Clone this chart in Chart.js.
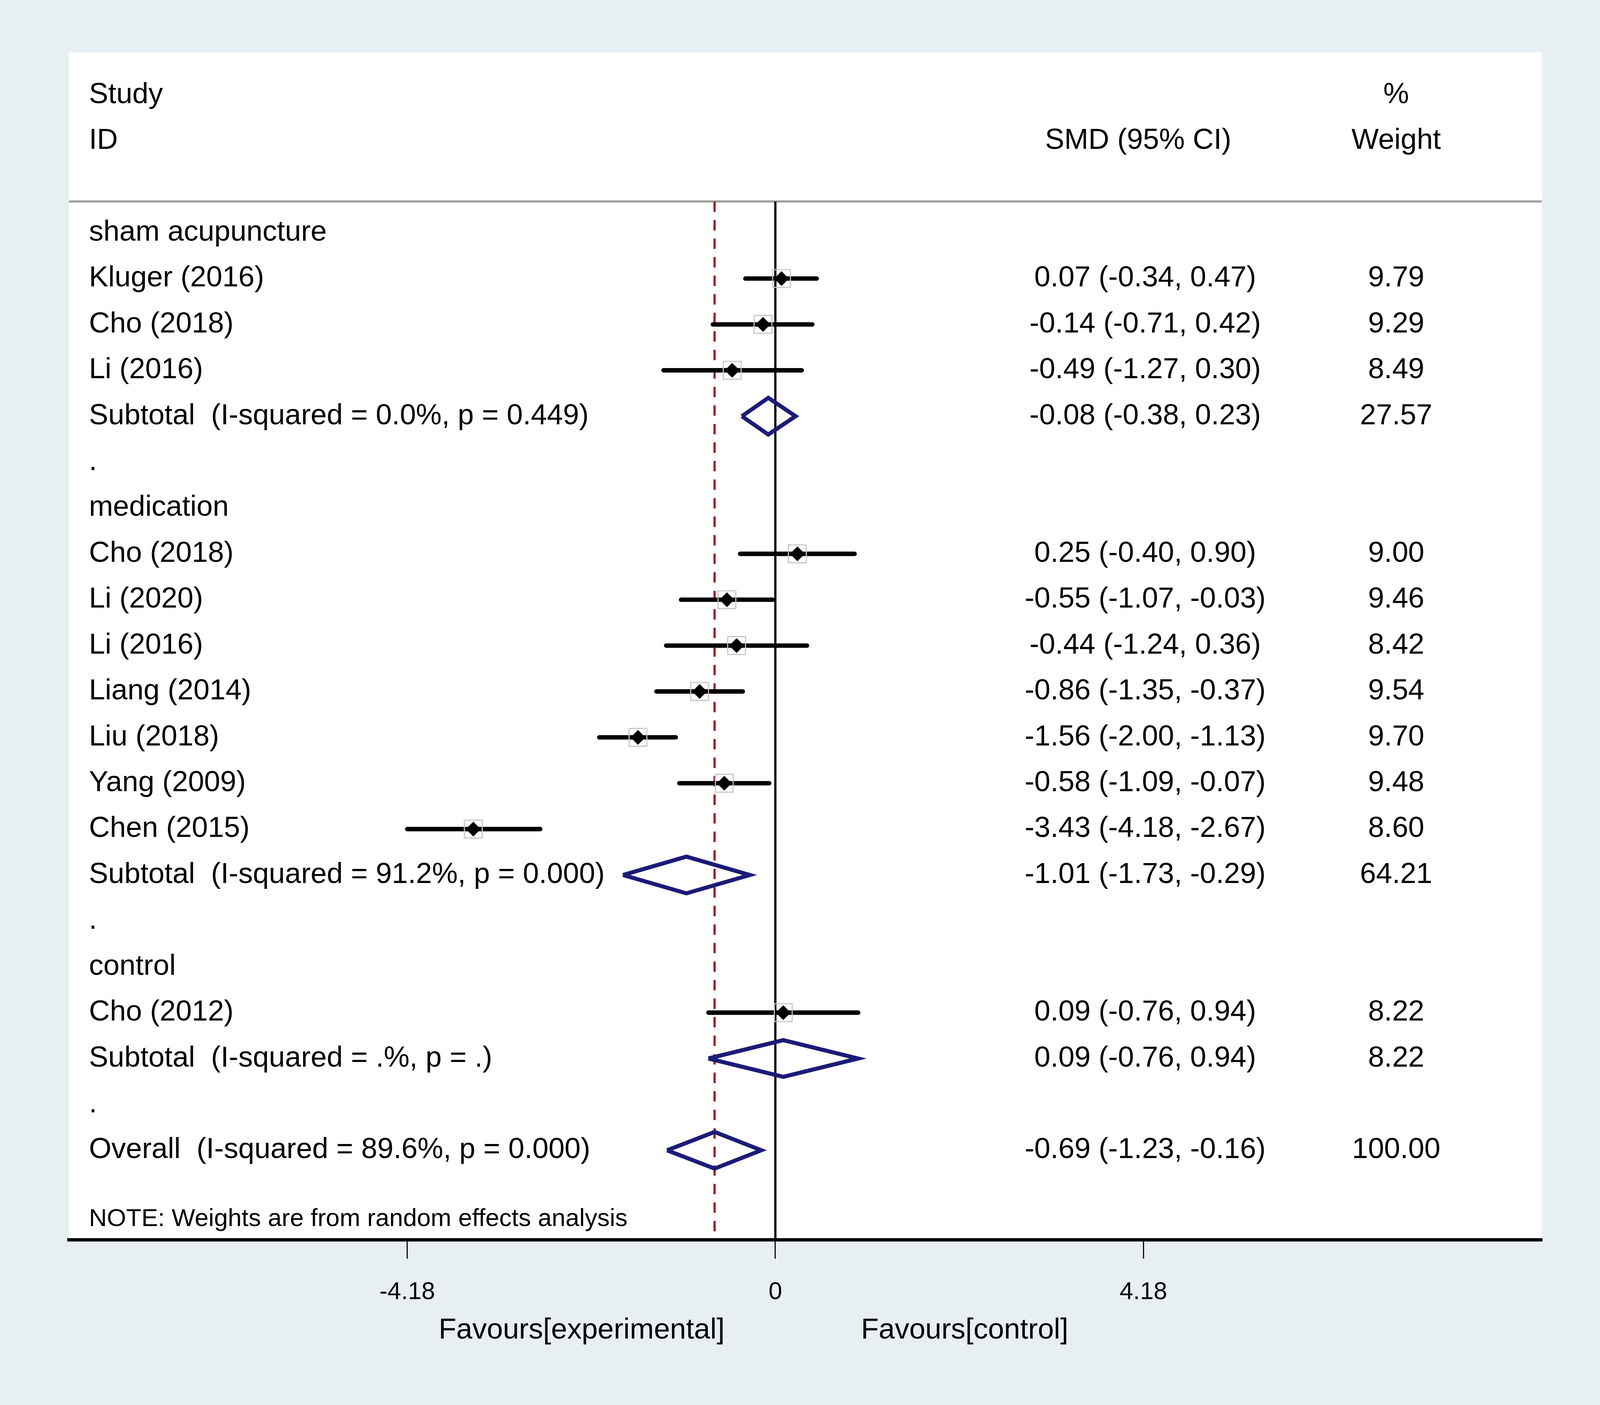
<!DOCTYPE html>
<html>
<head>
<meta charset="utf-8">
<title>Forest plot - SMD</title>
<script src="https://cdn.jsdelivr.net/npm/chart.js@4"></script>
<style>
  html, body { margin: 0; height: 100%; overflow: hidden; background: #e8eff2; }
  #wrap { position: relative; width: 100vw; height: 100vh; }
</style>
</head>
<body>
<div id="wrap"><canvas id="chart"></canvas></div>
<script>
// individual studies, row 0 is the first group heading and rows count downwards
const studyNames = ["Kluger (2016)", "Cho (2018)", "Li (2016)", "Cho (2018)", "Li (2020)", "Li (2016)",
  "Liang (2014)", "Liu (2018)", "Yang (2009)", "Chen (2015)", "Cho (2012)"];
const studyRows = [1, 2, 3, 7, 8, 9, 10, 11, 12, 13, 17];
const studySmd = [0.07, -0.14, -0.49, 0.25, -0.55, -0.44, -0.86, -1.56, -0.58, -3.43, 0.09];
const studyLow = [-0.34, -0.71, -1.27, -0.40, -1.07, -1.24, -1.35, -2.00, -1.09, -4.18, -0.76];
const studyHigh = [0.47, 0.42, 0.30, 0.90, -0.03, 0.36, -0.37, -1.13, -0.07, -2.67, 0.94];
const studyWeight = [9.79, 9.29, 8.49, 9.00, 9.46, 8.42, 9.54, 9.70, 9.48, 8.60, 8.22];

// pooled estimates (subtotals + overall)
const poolNames = ["Subtotal  (I-squared = 0.0%, p = 0.449)", "Subtotal  (I-squared = 91.2%, p = 0.000)",
  "Subtotal  (I-squared = .%, p = .)", "Overall  (I-squared = 89.6%, p = 0.000)"];
const poolRows = [4, 14, 18, 20];
const poolSmd = [-0.08, -1.01, 0.09, -0.69];
const poolLow = [-0.38, -1.73, -0.76, -1.23];
const poolHigh = [0.23, -0.29, 0.94, -0.16];
const poolWeight = [27.57, 64.21, 8.22, 100.00];

const groupNames = ["sham acupuncture", "medication", "control"];
const groupRows = [0, 6, 16];
const blankRows = [5, 15, 19];

const tickValues = [-4.18, 0, 4.18];
const tickLabels = ["-4.18", "0", "4.18"];
const favourValues = [-2.2, 2.15];
const favourLabels = ["Favours[experimental]", "Favours[control]"];
const noteText = "NOTE: Weights are from random effects analysis";

// layout (sizes are given for a 4317 x 3596 page and scaled to the real window)
const X_MIN = -8.022, X_MAX = 8.704;
const Y_MIN = -3.93, Y_MAX = 21.95;
const HEADER_LINE = -0.68;
const NOTE_ROW = 21.5;
const SMD_COL = 4.2, SMD_HEAD = 4.12, WEIGHT_COL = 7.05;
const DIAMOND_H = 0.4;
const FONT = "'Liberation Sans', Arial, sans-serif";

const kx = window.innerWidth / 4317;
const ky = window.innerHeight / 3596;
const k = Math.min(kx, ky);
let px = (v) => v * k;

Chart.defaults.font.family = FONT;
Chart.defaults.color = "#000";

let fmt = (v) => v.toFixed(2);
let ciText = (e, l, h) => `${fmt(e)} (${fmt(l)}, ${fmt(h)})`;

// build datasets from the arrays
let ciData = [];
studyRows.forEach((r, i) => {
  ciData.push({ x: studyLow[i], y: r }, { x: studyHigh[i], y: r }, { x: null, y: null });
});
let pointData = studyRows.map((r, i) => ({ x: studySmd[i], y: r }));
let diamondData = [];
poolRows.forEach((r, i) => {
  diamondData.push(
    { x: poolLow[i], y: r },
    { x: poolSmd[i], y: r - DIAMOND_H },
    { x: poolHigh[i], y: r },
    { x: poolSmd[i], y: r + DIAMOND_H },
    { x: poolLow[i], y: r },
    { x: null, y: null }
  );
});

// left column labels, placed on a mirrored y axis
let rowText = {};
rowText[-3] = "Study";
rowText[-2] = "ID";
groupRows.forEach((r, i) => (rowText[r] = groupNames[i]));
studyRows.forEach((r, i) => (rowText[r] = studyNames[i]));
poolRows.forEach((r, i) => (rowText[r] = poolNames[i]));
blankRows.forEach((r) => (rowText[r] = "."));
rowText[NOTE_ROW] = noteText;
let rowTicks = Object.keys(rowText).map((key) => ({ value: Number(key) }));

// white plot panel + the SMD and weight columns
const panel = {
  id: "panel",
  beforeDraw(chart) {
    const a = chart.chartArea;
    const ctx = chart.ctx;
    ctx.save();
    ctx.fillStyle = "#ffffff";
    ctx.fillRect(a.left, a.top, a.right - a.left, a.bottom - a.top);
    ctx.restore();
  },
  afterDatasetsDraw(chart) {
    const ctx = chart.ctx;
    const x = chart.scales.x;
    const y = chart.scales.y;
    ctx.save();
    ctx.fillStyle = "#000";
    ctx.textAlign = "center";
    ctx.textBaseline = "middle";
    ctx.font = px(78) + "px " + FONT;
    ctx.fillText("SMD (95% CI)", x.getPixelForValue(SMD_HEAD), y.getPixelForValue(-2));
    ctx.fillText("%", x.getPixelForValue(WEIGHT_COL), y.getPixelForValue(-3));
    ctx.fillText("Weight", x.getPixelForValue(WEIGHT_COL), y.getPixelForValue(-2));
    studyRows.forEach((r, i) => {
      ctx.fillText(ciText(studySmd[i], studyLow[i], studyHigh[i]), x.getPixelForValue(SMD_COL), y.getPixelForValue(r));
      ctx.fillText(fmt(studyWeight[i]), x.getPixelForValue(WEIGHT_COL), y.getPixelForValue(r));
    });
    poolRows.forEach((r, i) => {
      ctx.fillText(ciText(poolSmd[i], poolLow[i], poolHigh[i]), x.getPixelForValue(SMD_COL), y.getPixelForValue(r));
      ctx.fillText(fmt(poolWeight[i]), x.getPixelForValue(WEIGHT_COL), y.getPixelForValue(r));
    });
    ctx.restore();
  },
};

const chart = new Chart("chart", {
  type: "scatter",
  plugins: [panel],
  data: {
    datasets: [
      {
        label: "estimate",
        data: pointData,
        pointStyle: "rectRot",
        pointRadius: px(20),
        backgroundColor: "#000",
        borderColor: "#000",
        borderWidth: 0,
        order: 0,
      },
      {
        label: "weight box",
        data: pointData,
        pointStyle: "rect",
        pointRadius: px(34),
        backgroundColor: "rgba(0,0,0,0)",
        borderColor: "#c6c6c6",
        borderWidth: px(3),
        order: 1,
      },
      {
        label: "95% CI",
        data: ciData,
        showLine: true,
        spanGaps: false,
        pointRadius: 0,
        borderColor: "#000",
        borderWidth: px(12),
        borderCapStyle: "round",
        order: 2,
      },
      {
        label: "pooled",
        data: diamondData,
        showLine: true,
        spanGaps: false,
        pointRadius: 0,
        borderColor: "#1b1b78",
        borderWidth: px(11),
        borderJoinStyle: "miter",
        order: 3,
      },
      {
        label: "no effect",
        data: [{ x: 0, y: HEADER_LINE }, { x: 0, y: Y_MAX }],
        showLine: true,
        pointRadius: 0,
        borderColor: "#000",
        borderWidth: px(6),
        order: 4,
      },
      {
        label: "overall",
        data: [{ x: poolSmd[3], y: HEADER_LINE }, { x: poolSmd[3], y: Y_MAX }],
        showLine: true,
        pointRadius: 0,
        borderColor: "#9e1b24",
        borderWidth: px(6),
        borderDash: [px(28), px(22)],
        order: 5,
      },
      {
        label: "header rule",
        data: [{ x: X_MIN, y: HEADER_LINE }, { x: X_MAX, y: HEADER_LINE }],
        showLine: true,
        pointRadius: 0,
        borderColor: "#a0a0a0",
        borderWidth: px(6),
        order: 6,
      },
    ],
  },
  options: {
    responsive: true,
    maintainAspectRatio: false,
    animation: false,
    events: [],
    layout: { padding: { left: 186 * kx, right: 157 * kx, top: 134 * ky, bottom: 0 } },
    plugins: { legend: { display: false }, tooltip: { enabled: false } },
    scales: {
      x: {
        type: "linear",
        position: "bottom",
        min: X_MIN,
        max: X_MAX,
        bounds: "data",
        weight: 0,
        border: { display: true, color: "#000", width: px(9) },
        grid: { drawOnChartArea: false, drawTicks: true, tickLength: px(51), color: "#000", lineWidth: px(3) },
        ticks: {
          autoSkip: false,
          maxRotation: 0,
          minRotation: 0,
          padding: px(51),
          font: { size: px(66) },
          callback: (v) => tickLabels[tickValues.indexOf(v)],
        },
        afterBuildTicks: (s) => { s.ticks = tickValues.map((v) => ({ value: v })); },
        afterFit: (s) => { s.height = 170 * ky; },
      },
      x2: {
        type: "linear",
        position: "bottom",
        min: X_MIN,
        max: X_MAX,
        bounds: "data",
        weight: 1,
        border: { display: false },
        grid: { display: false, drawTicks: false },
        ticks: {
          autoSkip: false,
          maxRotation: 0,
          minRotation: 0,
          padding: px(19),
          font: { size: px(78) },
          callback: (v) => favourLabels[favourValues.indexOf(v)],
        },
        afterBuildTicks: (s) => { s.ticks = favourValues.map((v) => ({ value: v })); },
        afterFit: (s) => { s.height = 253 * ky; },
      },
      y: {
        type: "linear",
        position: "left",
        min: Y_MIN,
        max: Y_MAX,
        reverse: true,
        bounds: "data",
        border: { display: false },
        grid: { display: false, drawTicks: false },
        ticks: {
          mirror: true,
          padding: 54 * kx,
          autoSkip: false,
          font: (c) => ({ size: px(c.tick && c.tick.value === NOTE_ROW ? 67 : 78) }),
          callback: (v) => rowText[v],
        },
        afterBuildTicks: (s) => { s.ticks = rowTicks.slice(); },
        afterFit: (s) => { s.width = 0; },
      },
    },
  },
});
</script>
</body>
</html>
